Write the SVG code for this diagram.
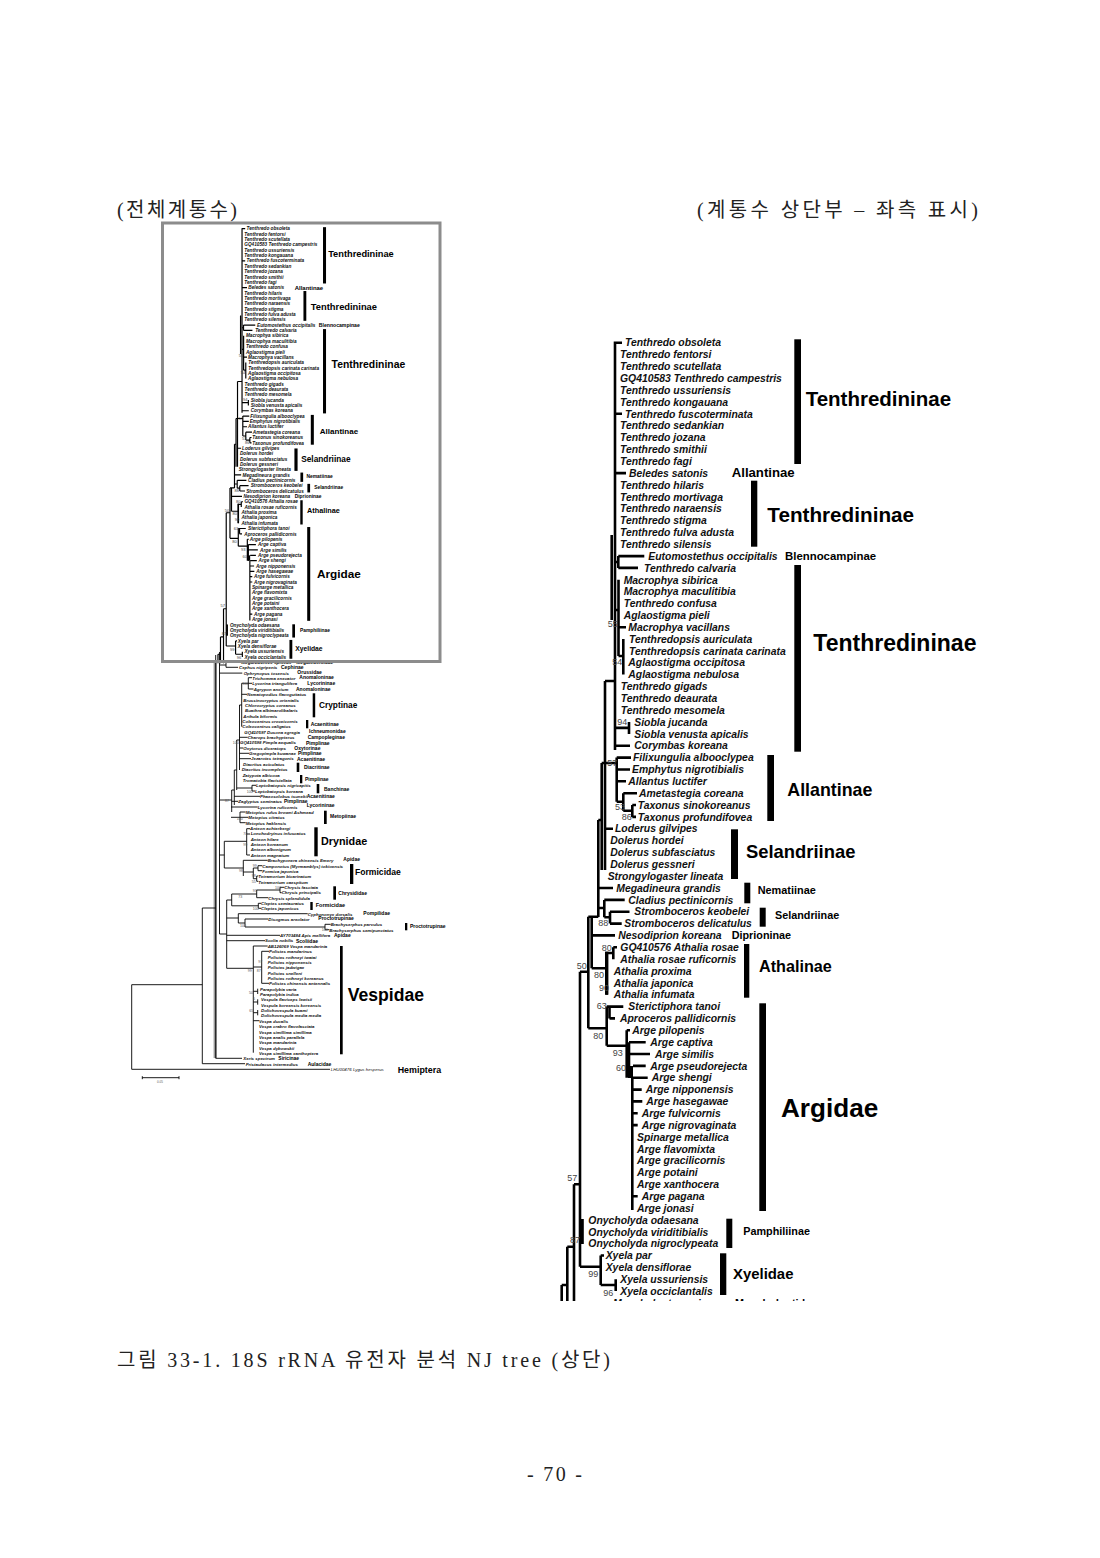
<svg xmlns="http://www.w3.org/2000/svg" xmlns:xlink="http://www.w3.org/1999/xlink" width="1100" height="1558" viewBox="0 0 1100 1558">
<style>
.tx{font-family:"Liberation Sans",Arial,sans-serif;font-weight:700;font-style:italic;font-size:10.4px;fill:#111}
.ln{stroke:#000;stroke-width:2.6;fill:none}
.bs{font-family:"Liberation Sans",Arial,sans-serif;font-size:9px;fill:#444}
.gl{font-family:"Liberation Sans",Arial,sans-serif;font-weight:700;fill:#000}
.bar{fill:#000}
.tx2{font-family:"Liberation Sans",Arial,sans-serif;font-weight:700;font-style:italic;font-size:4.4px;fill:#111}
.ln2{stroke:#000;stroke-width:0.9;fill:none}
.bs2{font-family:"Liberation Sans",Arial,sans-serif;font-size:3.6px;fill:#555}
.gl2{font-family:"Liberation Sans",Arial,sans-serif;font-weight:700;font-size:5px;fill:#000}
.kr{font-family:"Liberation Serif","Noto Sans CJK KR",serif;font-size:20px;fill:#222}
</style>
<defs>
<clipPath id="clipR"><rect x="540" y="330" width="470" height="971"/></clipPath>
<g id="topTree">
<g id="tt-connectors">
<path class="ln" d="M615 341.5V750M615 342.7H622M615 413.8H622M615 473.1H626M611.7 535V620
M615 562H618.3M618.3 556.1V567.9M618.3 556.1H644.3M618.3 567.9H638
M615 610H618.5M618.5 579.8V656M618.5 627.2H626M618.5 656H623.3M623.3 639V674.6
M615 727.9H629M629 722V734M615 745.8H630
M605 681H615M605 681V870
M601.7 763H616.7M616.7 757.6V801.7M616.7 757.6H631M616.7 769.5H630M616.7 781.3H626M616.7 801.7H623.3M623.3 793.2V810.8M623.3 793.2H637M623.3 810.8H632.3M632.3 805V816.9M632.3 805H636M632.3 816.9H636
M601.7 763V870M605 828.8H613
M598.3 820H601.7M598.3 820V917M598.3 888H613
M598.3 908H604.3M604.3 899.9V917.3M604.3 899.9H624.7M604.3 917.3H610M610 911.7V923.6M610 911.7H629.5M610 923.6H621.7
M588.3 916.7H598.3M588.3 916.7V1028.3
M591.7 916.7V968.3M591.7 935.4H615M591.7 968.3H606.7
M606.7 951.7V994.7M606.7 953H613.3M613.3 947.3V959.2M613.3 947.3H617
M580 971.7H588.3M580 971.7V1266.7
M588.3 1028.3H606.7M606.7 1006.6V1045.7M606.7 1006.6H623.3M609.5 1006.6V1018.4M609.5 1018.4H615
M606.7 1045.7H626.7M626.7 1030.3V1077.7M626.7 1030.3H630M629 1042.2V1077.7M629 1042.2H645.7M629 1054H650M633 1065.9H645.7M633 1077.7H647.7
M632.3 1077.7V1210M632.3 1089.6H641.7M632.3 1101.4H642.3M632.3 1113.3H637.7M632.3 1125.1H637.7M632.3 1196.3H637.7
M574 1184.3H580M574 1184.3V1305M580 1231.8H583
M580 1266.7H600.7M600.7 1255.5V1285M600.7 1255.5H604M600.7 1285H615.7M615.7 1279.3V1291
M567.3 1246.7H574M567.3 1246.7V1305M561.7 1285H567.3M561.7 1285V1305M574 1303H611"/>
<rect class="bar" x="605" y="951.7" width="3.4" height="43"/>
<rect class="bar" x="580" y="1219" width="3.8" height="25"/>
<rect class="bar" x="628" y="1066" width="5" height="12"/>
</g>
<g id="tt-taxa">
<text class="tx" x="625" y="346.4">Tenthredo obsoleta</text>
<text class="tx" x="620" y="358.26">Tenthredo fentorsi</text>
<text class="tx" x="620" y="370.11">Tenthredo scutellata</text>
<text class="tx" x="620" y="381.97">GQ410583 Tenthredo campestris</text>
<text class="tx" x="620" y="393.82">Tenthredo ussuriensis</text>
<text class="tx" x="620" y="405.68">Tenthredo kongauana</text>
<text class="tx" x="625" y="417.53">Tenthredo fuscoterminata</text>
<text class="tx" x="620" y="429.39">Tenthredo sedankian</text>
<text class="tx" x="620" y="441.24">Tenthredo jozana</text>
<text class="tx" x="620" y="453.1">Tenthredo smithii</text>
<text class="tx" x="620" y="464.95">Tenthredo fagi</text>
<text class="tx" x="629" y="476.81">Beledes satonis</text>
<text class="tx" x="620" y="488.66">Tenthredo hilaris</text>
<text class="tx" x="620" y="500.52">Tenthredo mortivaga</text>
<text class="tx" x="620" y="512.37">Tenthredo naraensis</text>
<text class="tx" x="620" y="524.23">Tenthredo stigma</text>
<text class="tx" x="620" y="536.08">Tenthredo fulva adusta</text>
<text class="tx" x="620" y="547.94">Tenthredo silensis</text>
<text class="tx" x="648.3" y="559.79">Eutomostethus occipitalis</text>
<text class="tx" x="644" y="571.65">Tenthredo calvaria</text>
<text class="tx" x="623.7" y="583.5">Macrophya sibirica</text>
<text class="tx" x="623.7" y="595.36">Macrophya maculitibia</text>
<text class="tx" x="623.7" y="607.21">Tenthredo confusa</text>
<text class="tx" x="623.7" y="619.07">Aglaostigma pieli</text>
<text class="tx" x="628.3" y="630.92">Macrophya vacillans</text>
<text class="tx" x="629" y="642.78">Tenthredopsis auriculata</text>
<text class="tx" x="629" y="654.63">Tenthredopsis carinata carinata</text>
<text class="tx" x="628.3" y="666.49">Aglaostigma occipitosa</text>
<text class="tx" x="628.3" y="678.34">Aglaostigma nebulosa</text>
<text class="tx" x="620.7" y="690.2">Tenthredo gigads</text>
<text class="tx" x="620.7" y="702.05">Tenthredo deaurata</text>
<text class="tx" x="620.7" y="713.91">Tenthredo mesomela</text>
<text class="tx" x="634.3" y="725.76">Siobla jucanda</text>
<text class="tx" x="634.3" y="737.62">Siobla venusta apicalis</text>
<text class="tx" x="634.3" y="749.47">Corymbas koreana</text>
<text class="tx" x="633" y="761.33">Filixungulia albooclypea</text>
<text class="tx" x="632" y="773.18">Emphytus nigrotibialis</text>
<text class="tx" x="628.3" y="785.04">Allantus luctifer</text>
<text class="tx" x="639" y="796.89">Ametastegia coreana</text>
<text class="tx" x="637.7" y="808.75">Taxonus sinokoreanus</text>
<text class="tx" x="637.7" y="820.6">Taxonus profundifovea</text>
<text class="tx" x="615" y="832.46">Loderus gilvipes</text>
<text class="tx" x="610.3" y="844.31">Dolerus hordei</text>
<text class="tx" x="610.3" y="856.17">Dolerus subfasciatus</text>
<text class="tx" x="610.3" y="868.02">Dolerus gessneri</text>
<text class="tx" x="607.7" y="879.88">Strongylogaster lineata</text>
<text class="tx" x="616.3" y="891.73">Megadineura grandis</text>
<text class="tx" x="628.3" y="903.59">Cladius pectinicornis</text>
<text class="tx" x="634.3" y="915.44">Stromboceros keobelei</text>
<text class="tx" x="624.3" y="927.3">Stromboceros delicatulus</text>
<text class="tx" x="618.3" y="939.15">Nesodiprion koreana</text>
<text class="tx" x="620.3" y="951.01">GQ410576 Athalia rosae</text>
<text class="tx" x="620.3" y="962.86">Athalia rosae ruficornis</text>
<text class="tx" x="613.7" y="974.72">Athalia proxima</text>
<text class="tx" x="613.7" y="986.57">Athalia japonica</text>
<text class="tx" x="613.7" y="998.43">Athalia infumata</text>
<text class="tx" x="628.3" y="1010.28">Sterictiphora tanoi</text>
<text class="tx" x="620" y="1022.14">Aproceros pallidicornis</text>
<text class="tx" x="632.3" y="1033.99">Arge pilopenis</text>
<text class="tx" x="650.3" y="1045.85">Arge captiva</text>
<text class="tx" x="655" y="1057.7">Arge similis</text>
<text class="tx" x="650.3" y="1069.56">Arge pseudorejecta</text>
<text class="tx" x="651.7" y="1081.41">Arge shengi</text>
<text class="tx" x="645.7" y="1093.27">Arge nipponensis</text>
<text class="tx" x="646.3" y="1105.12">Arge hasegawae</text>
<text class="tx" x="641.7" y="1116.98">Arge fulvicornis</text>
<text class="tx" x="641.7" y="1128.83">Arge nigrovaginata</text>
<text class="tx" x="637" y="1140.69">Spinarge metallica</text>
<text class="tx" x="637" y="1152.54">Arge flavomixta</text>
<text class="tx" x="637" y="1164.4">Arge gracilicornis</text>
<text class="tx" x="637" y="1176.25">Arge potaini</text>
<text class="tx" x="637" y="1188.11">Arge xanthocera</text>
<text class="tx" x="641.7" y="1199.96">Arge pagana</text>
<text class="tx" x="637" y="1211.82">Arge jonasi</text>
<text class="tx" x="588.3" y="1223.67">Onycholyda odaesana</text>
<text class="tx" x="588.3" y="1235.53">Onycholyda viriditibialis</text>
<text class="tx" x="588.3" y="1247.38">Onycholyda nigroclypeata</text>
<text class="tx" x="605.7" y="1259.24">Xyela par</text>
<text class="tx" x="605.7" y="1271.09">Xyela densiflorae</text>
<text class="tx" x="620.3" y="1282.95">Xyela ussuriensis</text>
<text class="tx" x="620.3" y="1294.8">Xyela occiclantalis</text>
<text class="tx" x="613" y="1306.66">Megalodontes spissus</text>
</g>
<g id="tt-bootstrap">
<text class="bs" x="607.7" y="627">55</text>
<text class="bs" x="612.3" y="665">54</text>
<text class="bs" x="617.3" y="725">94</text>
<text class="bs" x="607.3" y="766">57</text>
<text class="bs" x="615" y="810">53</text>
<text class="bs" x="621.7" y="820">86</text>
<text class="bs" x="598.3" y="926">88</text>
<text class="bs" x="601.7" y="950.5">80</text>
<text class="bs" x="576.7" y="969">50</text>
<text class="bs" x="594" y="977.5">80</text>
<text class="bs" x="599" y="991">90</text>
<text class="bs" x="596.7" y="1009">63</text>
<text class="bs" x="593.3" y="1039">80</text>
<text class="bs" x="612.7" y="1055.5">93</text>
<text class="bs" x="616" y="1071">60</text>
<text class="bs" x="567.3" y="1180.5">57</text>
<text class="bs" x="570" y="1242.5">87</text>
<text class="bs" x="588.3" y="1277">99</text>
<text class="bs" x="603.3" y="1296">96</text>
</g>
<g id="clade-tenthredininae-a"><rect class="bar" x="794.3" y="339.3" width="6.7" height="124.7"/><text class="gl" x="805.7" y="405.7" font-size="20.5">Tenthredininae</text></g>
<g id="clade-allantinae-a"><text class="gl" x="731.7" y="477.4" font-size="13.2">Allantinae</text></g>
<g id="clade-tenthredininae-b"><rect class="bar" x="751" y="480.7" width="6.3" height="66"/><text class="gl" x="767.3" y="521.7" font-size="20.7">Tenthredininae</text></g>
<g id="clade-blennocampinae"><text class="gl" x="785" y="559.8" font-size="11.4">Blennocampinae</text></g>
<g id="clade-tenthredininae-c"><rect class="bar" x="794.3" y="565" width="6.7" height="186.7"/><text class="gl" x="813.3" y="650.5" font-size="23">Tenthredininae</text></g>
<g id="clade-allantinae-b"><rect class="bar" x="767.3" y="755" width="6.7" height="66"/><text class="gl" x="787.3" y="796.4" font-size="17.8">Allantinae</text></g>
<g id="clade-selandriinae-a"><rect class="bar" x="731" y="829.3" width="7" height="49.7"/><text class="gl" x="746" y="858.3" font-size="18.4">Selandriinae</text></g>
<g id="clade-nematiinae"><rect class="bar" x="744.3" y="882.7" width="6" height="20.6"/><text class="gl" x="757.7" y="893.9" font-size="10.9">Nematiinae</text></g>
<g id="clade-selandriinae-b"><rect class="bar" x="759.7" y="907.7" width="6" height="19"/><text class="gl" x="775" y="918.9" font-size="10.8">Selandriinae</text></g>
<g id="clade-diprioninae"><text class="gl" x="731.7" y="939.2" font-size="10.8">Diprioninae</text></g>
<g id="clade-athalinae"><rect class="bar" x="744" y="944" width="5.3" height="53.7"/><text class="gl" x="759" y="971.5" font-size="16.2">Athalinae</text></g>
<g id="clade-argidae"><rect class="bar" x="759.3" y="1003.3" width="6.7" height="207.7"/><text class="gl" x="781" y="1116.6" font-size="26.1">Argidae</text></g>
<g id="clade-pamphiliinae"><rect class="bar" x="726.3" y="1218.7" width="6" height="29.3"/><text class="gl" x="743.3" y="1235.2" font-size="10.8">Pamphiliinae</text></g>
<g id="clade-xyelidae"><rect class="bar" x="720" y="1253.3" width="6.3" height="41.7"/><text class="gl" x="733" y="1278.6" font-size="14.9">Xyelidae</text></g>
<g id="clade-megalodontidae"><text class="gl" x="735" y="1307" font-size="10.8">Megalodontidae</text></g>
</g>
</defs>

<g id="headers">
<text class="kr" x="117" y="217" textLength="120" lengthAdjust="spacing">(전체계통수)</text>
<text class="kr" x="697" y="217" textLength="281" lengthAdjust="spacing">(계통수 상단부 – 좌측 표시)</text>
</g>

<g id="right-tree">
<use xlink:href="#topTree" href="#topTree" clip-path="url(#clipR)"/>
</g>

<g id="left-tree">
<use xlink:href="#topTree" href="#topTree" transform="matrix(0.4516 0 0 0.4516 -35.7 73.94)"/>
<g id="lt-connectors">
<rect x="213.6" y="660" width="3.4" height="398" fill="#9a9a9a"/>
<path class="ln2" d="M131.7 1069.3H330M131.7 984.7V1069.3M131.7 984.7H202.3M202.3 908V1063.7M202.3 1063.7H245M202.3 908H215.7M215.7 655V1058.3M215.7 1058.3H242
M219.5 652V934M219.5 665H226M226 662.4V667.3M226 667.3H238M219.5 673.1H242.3
M248.3 677.7V689M248.3 677.7H252M248.3 683.3H252M248.3 689H253.5
M241.7 683.3H248.3M241.7 683.3V726.7M241.7 694.3H247
M239.5 705H241.7M239.5 705V770M239.5 737.3H247.7M239.5 753.3H249M239.5 758.7H251M239.5 748H243.3
M236.7 740H239.5M236.7 740V790M236.7 788H252M252 785.3V791M252 785.3H256M252 791H255
M234.3 770H236.7M234.3 770V805M234.3 796.3H260
M231.7 790H234.3M231.7 790V812M231.7 801.3H238.3M231 807H257.7
M231 817.3H240M240 812V822.7M240 812H245.7M240 817.3H248.3M240 822.7H245.7M219.5 800H231.7
M224.3 841.3H246.7M246.7 828.7V855M246.7 828.7H250M246.7 834H250M246.7 855H250
M224.3 868H243.3M243.3 860.3V876M243.3 860.3H267.7M243.3 872H253.3M253.3 868V878.7M253.3 868H258M258 865.7V870.7M258 865.7H262.3M258 870.7H262.3M253.3 878.7H256.7M256.7 876V881.3M256.7 876H258.3M256.7 881.3H258.3
M224.3 841.3V868M219.5 855H224.3
M231.7 894V905.8M231.7 894H256.7M256.7 890V897.7M256.7 890H280M280 887.3V892.7M280 887.3H284.3M280 892.7H281.7M256.7 897.7H268.3M231.7 905.8H258.3M258.3 903.3V908.3M258.3 903.3H261M258.3 908.3H261
M226.7 900H231.7M238.3 913.7H307.7M238.3 913.7V923M238.3 923H245M245 919V927M245 919H268.3M245 927H325M325 924.3V929.7M325 924.3H330.7M325 929.7H329.3
M226.7 918H238.3M226.7 935.3H280M226.7 940.7H265M219.5 934H226.7M226.7 900V968.3M226.7 968.3H253.3
M253.3 946V1052.7M253.3 946H267.7M253.3 967H261.7M261.7 951.3V983.3M261.7 951.3H269M261.7 983.3H269
M253.3 991.3H257.7M257.7 988.7V994M253.3 1002H257.7M257.7 999.3V1004.7M253.3 1012.7H257.7M257.7 1010V1015.3M253.3 1020.7H259
M142.3 1077.7H179M142.3 1076.2V1079.2M179 1076.2V1079.2"/>
</g>
<g id="lt-taxa">
<text class="tx2" x="239" y="669.43">Cephus nigripenis</text>
<text class="tx2" x="243.7" y="674.78">Ophrynopus tosensis</text>
<text class="tx2" x="252.3" y="680.14">Trichomma enecator</text>
<text class="tx2" x="252.3" y="685.49">Lycorina triangulifera</text>
<text class="tx2" x="253.7" y="690.84">Agrypon anxium</text>
<text class="tx2" x="247" y="696.2">Nematopodius flavoguttatus</text>
<text class="tx2" x="243.3" y="701.55">Brussinocryptus orientalis</text>
<text class="tx2" x="245" y="706.91">Chlorocryptus coreanus</text>
<text class="tx2" x="245" y="712.26">Buathra albimarolibalaris</text>
<text class="tx2" x="243.3" y="717.61">Arthula biformis</text>
<text class="tx2" x="242.3" y="722.97">Coleocentrus croceicornis</text>
<text class="tx2" x="242.3" y="728.32">Coleocentrus caligatus</text>
<text class="tx2" x="244.3" y="733.68">GQ410597 Dusona egregia</text>
<text class="tx2" x="247.7" y="739.03">Charops brachypterus</text>
<text class="tx2" x="240" y="744.38">GQ410598 Pimpla aequalis</text>
<text class="tx2" x="243.3" y="749.74">Oxytorus diceratops</text>
<text class="tx2" x="249" y="755.09">Gregopimpla kuwanae</text>
<text class="tx2" x="251" y="760.45">Jezarotes tetragonis</text>
<text class="tx2" x="243" y="765.8">Diacritus aciculatus</text>
<text class="tx2" x="241.7" y="771.15">Diacritus incompletus</text>
<text class="tx2" x="242.7" y="776.51">Zatypota albicoxa</text>
<text class="tx2" x="242.7" y="781.86">Tromatobia flavistellata</text>
<text class="tx2" x="256" y="787.22">Leptobatopsis nigricapitis</text>
<text class="tx2" x="255" y="792.57">Leptobatopsis koreana</text>
<text class="tx2" x="260" y="797.92">Phaeosolobus tsuneki</text>
<text class="tx2" x="238.3" y="803.28">Zaglyptus seminatus</text>
<text class="tx2" x="257.7" y="808.63">Lycorina ruficornis</text>
<text class="tx2" x="245.7" y="813.99">Metopius rufus browni Ashmead</text>
<text class="tx2" x="248.3" y="819.34">Metopius citratus</text>
<text class="tx2" x="245.7" y="824.69">Metopius haklensis</text>
<text class="tx2" x="250" y="830.05">Anteon achterbergi</text>
<text class="tx2" x="250.7" y="835.4">Lonchodryinus infuscatus</text>
<text class="tx2" x="250.7" y="840.76">Anteon hilare</text>
<text class="tx2" x="250.7" y="846.11">Anteon koreanum</text>
<text class="tx2" x="250.7" y="851.46">Anteon albonigrum</text>
<text class="tx2" x="250.7" y="856.82">Anteon magnatum</text>
<text class="tx2" x="267.7" y="862.17">Brachyponera chinensis Emery</text>
<text class="tx2" x="262.3" y="867.53">Camponotus (Myrmamblys) tokioensis</text>
<text class="tx2" x="262.3" y="872.88">Formica japonica</text>
<text class="tx2" x="258.3" y="878.23">Tetramorium bicarinatum</text>
<text class="tx2" x="258.3" y="883.59">Tetramorium caespitum</text>
<text class="tx2" x="284.3" y="888.94">Chrysis fasciata</text>
<text class="tx2" x="281.7" y="894.3">Chrysis principalis</text>
<text class="tx2" x="268.3" y="899.65">Chrysis splendidula</text>
<text class="tx2" x="261" y="905">Cleptes semiauratus</text>
<text class="tx2" x="261" y="910.36">Cleptes japonicus</text>
<text class="tx2" x="307.7" y="915.71">Cyphononyx dorsalis</text>
<text class="tx2" x="268.3" y="921.07">Disogmus areolator</text>
<text class="tx2" x="330.7" y="926.42">Brachyserphus parvulus</text>
<text class="tx2" x="329.3" y="931.77">Brachyserphus semipunctatus</text>
<text class="tx2" x="280" y="937.13">AY703484 Apis mellifera</text>
<text class="tx2" x="265" y="942.48">Scolia nobilis</text>
<text class="tx2" x="267.7" y="947.84">AB126069 Vespa mandarinia</text>
<text class="tx2" x="269" y="953.19">Polistes mandarinus</text>
<text class="tx2" x="267.7" y="958.54">Polistes rothneyi iwatai</text>
<text class="tx2" x="267.7" y="963.9">Polistes nipponensis</text>
<text class="tx2" x="267.7" y="969.25">Polistes jadwigae</text>
<text class="tx2" x="267.7" y="974.61">Polistes snelleni</text>
<text class="tx2" x="267.7" y="979.96">Polistes rothneyi koreanus</text>
<text class="tx2" x="269" y="985.31">Polistes chinensis antennalis</text>
<text class="tx2" x="260" y="990.67">Parapolybia varia</text>
<text class="tx2" x="260" y="996.02">Parapolybia indica</text>
<text class="tx2" x="261" y="1001.38">Vespula flaviceps lewisii</text>
<text class="tx2" x="261" y="1006.73">Vespula koreensis koreensis</text>
<text class="tx2" x="261" y="1012.08">Dolichovespula kuami</text>
<text class="tx2" x="261" y="1017.44">Dolichovespula media media</text>
<text class="tx2" x="259" y="1022.79">Vespa ducalis</text>
<text class="tx2" x="259" y="1028.15">Vespa crabro flavofasciata</text>
<text class="tx2" x="259" y="1033.5">Vespa simillima simillima</text>
<text class="tx2" x="259" y="1038.85">Vespa analis parallela</text>
<text class="tx2" x="259" y="1044.21">Vespa mandarinia</text>
<text class="tx2" x="259" y="1049.56">Vespa dybowskii</text>
<text class="tx2" x="259" y="1054.92">Vespa simillima xanthoptera</text>
<text class="tx2" x="243.3" y="1060.27">Xeris spectrum</text>
<text class="tx2" x="245.7" y="1065.62">Pristaulacus intermedius</text>
<text class="tx2" x="330.7" y="1070.98" style="font-weight:400">LHU00476 Lygus hesperus</text>
</g>
<g id="lt-bootstrap">
<text class="bs2" x="242.3" y="685">100</text>
<text class="bs2" x="232.8" y="744">100</text>
<text class="bs2" x="246.7" y="792.5">100</text>
<text class="bs2" x="225" y="801.5">87</text>
<text class="bs2" x="236.7" y="820">100</text>
<text class="bs2" x="243.3" y="835">70</text>
<text class="bs2" x="243.3" y="845.5">99</text>
<text class="bs2" x="252.7" y="867.3">99</text>
<text class="bs2" x="239" y="871.6">98</text>
<text class="bs2" x="251.7" y="877.3">98</text>
<text class="bs2" x="251.7" y="882.6">55</text>
<text class="bs2" x="275" y="888.6">100</text>
<text class="bs2" x="252.7" y="892.3">93</text>
<text class="bs2" x="238.3" y="898.3">73</text>
<text class="bs2" x="252.7" y="909.6">100</text>
<text class="bs2" x="240" y="926.6">100</text>
<text class="bs2" x="321.7" y="931">100</text>
<text class="bs2" x="258.3" y="962.5">97</text>
<text class="bs2" x="247.7" y="972">99</text>
<text class="bs2" x="256.7" y="972">87</text>
<text class="bs2" x="249" y="994.3">50</text>
<text class="bs2" x="253" y="999.8">6</text>
<text class="bs2" x="249.3" y="1012">65</text>
<text class="bs2" x="157" y="1082.5" style="font-size:3px">0.05</text>
</g>
<g id="lt-clades">
<text class="gl2" x="281" y="669">Cephinae</text>
<text class="gl2" x="297.3" y="673.5">Orussidae</text>
<text class="gl2" x="299.3" y="678.5">Anomaloninae</text>
<text class="gl2" x="307.3" y="685">Lycorininae</text>
<text class="gl2" x="296" y="690.8">Anomaloninae</text>
<g id="lt-cryptinae"><rect class="bar" x="312.7" y="693.3" width="2.5" height="24"/><text class="gl2" x="319" y="707.7" style="font-size:8.3px">Cryptinae</text></g>
<g id="lt-acaenitinae"><rect class="bar" x="306" y="720" width="2.3" height="8.3"/><text class="gl2" x="310.7" y="726">Acaenitinae</text></g>
<text class="gl2" x="309" y="733.2">Ichneumonidae</text>
<text class="gl2" x="307.7" y="739.1">Campopleginae</text>
<text class="gl2" x="306" y="744.5">Pimplinae</text>
<text class="gl2" x="294.3" y="749.8">Oxytorinae</text>
<text class="gl2" x="298" y="754.8">Pimplinae</text>
<text class="gl2" x="297" y="760.5">Acaenitinae</text>
<g id="lt-diacritinae"><rect class="bar" x="296.7" y="762.7" width="2.6" height="9.3"/><text class="gl2" x="304" y="768.5">Diacritinae</text></g>
<g id="lt-pimplinae"><rect class="bar" x="300" y="775" width="2.3" height="8.3"/><text class="gl2" x="305" y="780.5">Pimplinae</text></g>
<g id="lt-banchinae"><rect class="bar" x="316.7" y="784" width="2.6" height="9.3"/><text class="gl2" x="324" y="790.5">Banchinae</text></g>
<text class="gl2" x="306.7" y="798.1">Acaenitinae</text>
<text class="gl2" x="284" y="803.1">Pimplinae</text>
<text class="gl2" x="306.7" y="807.1">Lycorininae</text>
<g id="lt-metopiinae"><rect class="bar" x="324" y="810.7" width="2.7" height="13.3"/><text class="gl2" x="330" y="818.1">Metopiinae</text></g>
<g id="lt-drynidae"><rect class="bar" x="314.3" y="827.3" width="3.4" height="29"/><text class="gl2" x="321" y="845.2" style="font-size:10.8px">Drynidae</text></g>
<text class="gl2" x="343.3" y="860.8">Apidae</text>
<g id="lt-formicidae"><rect class="bar" x="350" y="864" width="3.3" height="20"/><text class="gl2" x="355" y="875.1" style="font-size:8.6px">Formicidae</text></g>
<g id="lt-chrysididae"><rect class="bar" x="333.3" y="886.3" width="2.7" height="13.4"/><text class="gl2" x="338.3" y="894.5">Chrysididae</text></g>
<g id="lt-formicidae2"><rect class="bar" x="310.3" y="902" width="2.4" height="8"/><text class="gl2" x="315.7" y="907.3" style="font-size:5.5px">Formicidae</text></g>
<text class="gl2" x="363.3" y="914.8">Pompilidae</text>
<text class="gl2" x="318.3" y="919.8">Proctotrupinae</text>
<g id="lt-proctotrupinae"><rect class="bar" x="405" y="923" width="2.3" height="7.3"/><text class="gl2" x="410" y="928.1">Proctotrupinae</text></g>
<text class="gl2" x="334" y="937.1">Apidae</text>
<text class="gl2" x="296" y="942.5">Scoliidae</text>
<g id="lt-vespidae"><rect class="bar" x="340" y="946" width="2.7" height="108.3"/><text class="gl2" x="347.7" y="1000.6" style="font-size:17.6px">Vespidae</text></g>
<text class="gl2" x="278.3" y="1060.1">Siricinae</text>
<text class="gl2" x="307.7" y="1065.5">Aulacidae</text>
<text class="gl2" x="397.7" y="1072.5" style="font-size:8.9px">Hemiptera</text>
</g>
<rect id="zoom-box" x="162.5" y="223" width="277.5" height="438.5" fill="none" stroke="#8c8c8c" stroke-width="3"/>
</g>

<g id="footer">
<text class="kr" x="117" y="1367" textLength="493" lengthAdjust="spacing">그림 33-1. 18S rRNA 유전자 분석 NJ tree (상단)</text>
<text class="kr" x="527" y="1481" textLength="55" lengthAdjust="spacing">- 70 -</text>
</g>
</svg>
